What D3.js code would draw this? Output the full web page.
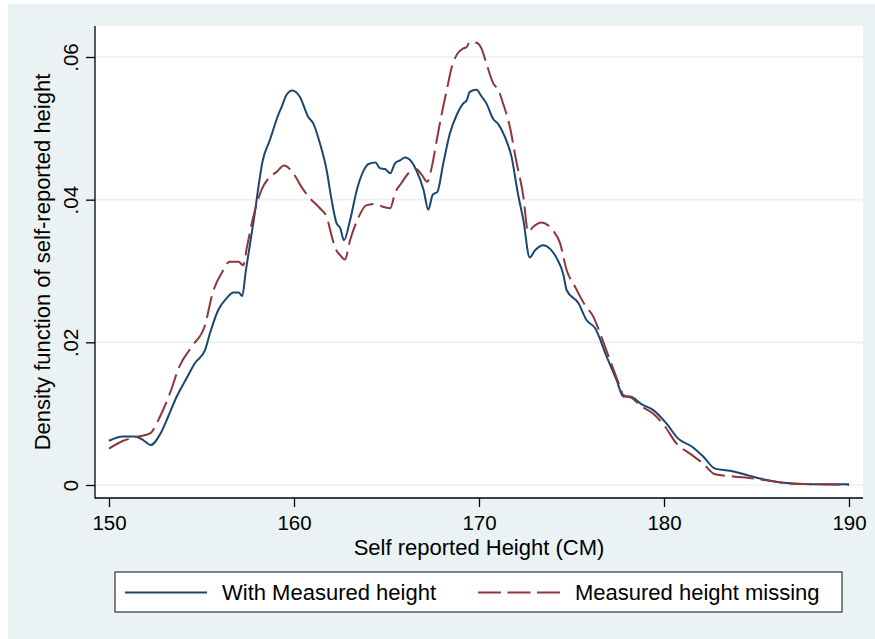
<!DOCTYPE html>
<html>
<head>
<meta charset="utf-8">
<script src="https://cdn.jsdelivr.net/npm/d3@7"></script>
<style>
  html, body { margin: 0; padding: 0; background: #ffffff; }
  svg { display: block; }
  text { font-family: "Liberation Sans", Arial, Helvetica, sans-serif; fill: #000; }
</style>
</head>
<body>
<svg id="chart" width="875" height="639"></svg>
<script>
// ---------- DATA ----------
const xTicks = [150, 160, 170, 180, 190];
const yTicks = [0, 0.02, 0.04, 0.06];
const yTickLabels = ["0", ".02", ".04", ".06"];
const seriesNames = ["With Measured height", "Measured height missing"];
const xTitle = "Self reported Height (CM)";
const yTitle = "Density function of self-reported height";

const measuredX = [150.0,150.77,151.4,151.85,152.25,152.8,153.2,153.66,154.2,154.65,155.19,155.46,155.9,156.36,156.72,157.0,157.2,157.4,157.8,158.32,158.7,159.15,159.3,159.6,159.9,160.32,160.77,161.04,161.4,161.76,162.03,162.3,162.5,162.7,163.03,163.4,163.75,164.03,164.4,164.65,164.92,165.2,165.46,165.73,166.0,166.36,166.6,167.0,167.26,167.5,167.75,168.07,168.43,168.8,169.15,169.33,169.5,169.87,170.13,170.4,170.77,171.04,171.4,171.76,172.1,172.4,172.74,173.03,173.48,173.84,174.2,174.56,174.74,175.37,175.82,176.27,176.9,177.44,177.8,178.16,178.8,179.42,180.14,180.77,181.5,182.12,182.76,183.57,184.47,185.36,186.45,187.9,189.15,190.0];
const measuredY = [.0062,.0068,.0068,.0063,.0056,.0073,.0096,.0124,.0150,.0171,.0189,.0213,.0245,.0262,.0270,.0270,.0265,.0301,.0367,.0456,.0484,.0519,.0528,.0547,.0553,.0544,.0516,.0507,.0479,.0442,.0400,.0367,.0360,.0343,.0371,.0414,.0440,.0450,.0452,.0444,.0443,.0437,.0451,.0455,.0459,.0453,.0442,.0414,.0386,.0407,.0411,.0451,.0493,.0519,.0535,.0539,.0551,.0554,.0545,.0535,.0513,.0506,.0488,.0460,.0409,.0371,.0319,.0329,.0336,.0331,.0318,.0295,.0273,.0255,.0231,.0220,.0180,.0147,.0124,.0124,.0113,.0105,.0086,.0065,.0054,.0040,.0023,.0020,.0014,.0008,.0003,.0001,.0001,.0001];

const missingX = [150.0,150.77,151.58,152.2,152.76,153.3,153.8,154.47,155.19,155.6,156.2,156.5,157.0,157.25,157.46,157.8,158.25,158.7,159.06,159.46,159.96,160.4,160.86,161.4,161.76,162.1,162.29,162.5,162.75,163.03,163.45,163.9,164.46,164.8,165.2,165.46,165.8,166.26,166.6,166.9,167.2,167.45,167.72,167.99,168.26,168.53,168.9,169.15,169.33,169.5,169.87,170.13,170.4,170.77,171.04,171.3,171.67,172.0,172.4,172.65,172.93,173.38,173.74,174.0,174.38,174.74,175.19,175.73,176.18,176.54,177.08,177.62,177.8,178.25,178.8,179.42,180.05,180.68,181.4,182.12,182.76,183.75,184.83,185.73,186.8,188.24,190.0];
const missingY = [.0051,.0062,.0068,.0072,.0096,.0129,.0166,.0194,.0224,.0269,.0302,.0313,.0313,.0308,.0334,.0376,.0414,.0432,.0439,.0448,.0437,.0418,.0402,.0388,.0376,.0343,.0329,.0322,.0316,.0343,.0373,.0392,.0394,.0390,.0388,.0409,.0423,.0439,.0443,.0435,.0425,.0446,.0484,.0521,.0554,.0586,.0607,.0612,.0614,.0621,.0620,.0612,.0591,.0563,.0554,.0535,.0502,.0456,.0404,.0355,.0362,.0368,.0364,.0357,.0339,.0301,.0278,.0252,.0236,.0213,.0175,.0138,.0126,.0122,.0110,.0100,.0082,.0058,.0044,.0030,.0015,.0012,.0009,.0006,.0002,.0001,.0000];

// ---------- LAYOUT ----------
const W = 875, H = 639;
const plot = { left: 95, right: 863, top: 26, bottom: 498 };
const colors = ["#1a476f", "#90353b"];
const bg = "#eaf2f3";

const svg = d3.select("#chart");

svg.append("rect").attr("x", 8).attr("y", 4).attr("width", W - 8).attr("height", H - 4).attr("fill", bg);
svg.append("rect").attr("x", plot.left).attr("y", plot.top)
  .attr("width", plot.right - plot.left).attr("height", plot.bottom - plot.top).attr("fill", "#fff");

const x = d3.scaleLinear().domain([150, 190]).range([109, 849]);
const y = d3.scaleLinear().domain([0, 0.06]).range([485, 57]);

// gridlines
svg.append("g").selectAll("line").data(yTicks).join("line")
  .attr("x1", plot.left).attr("x2", plot.right)
  .attr("y1", d => y(d)).attr("y2", d => y(d))
  .attr("stroke", bg).attr("stroke-width", 1.6);

// series
const seriesData = [
  measuredX.map((v, i) => [v, measuredY[i]]),
  missingX.map((v, i) => [v, missingY[i]])
];
const line = d3.line().x(d => x(d[0])).y(d => y(d[1])).curve(d3.curveMonotoneX);
svg.append("path").datum(seriesData[0]).attr("d", line)
  .attr("fill", "none").attr("stroke", colors[0]).attr("stroke-width", 2).attr("stroke-linejoin", "round");
svg.append("path").datum(seriesData[1]).attr("d", line)
  .attr("fill", "none").attr("stroke", colors[1]).attr("stroke-width", 2)
  .attr("stroke-dasharray", "22,7");

// axes
const xAxis = d3.axisBottom(x).tickValues(xTicks).tickSize(9).tickSizeOuter(0).tickPadding(4).tickFormat(d3.format("d"));
const gx = svg.append("g").attr("transform", `translate(0,${plot.bottom})`).call(xAxis);
gx.select(".domain").remove();
gx.selectAll("line").attr("stroke", "#000").attr("stroke-width", 1.3);
gx.selectAll("text").attr("font-size", "20.5px").attr("fill", "#000")
  .attr("font-family", "Liberation Sans, Arial, sans-serif").attr("dy", null).attr("y", 32);

const yAxis = d3.axisLeft(y).tickValues(yTicks).tickSize(9).tickSizeOuter(0).tickFormat((d, i) => yTickLabels[i]);
const gy = svg.append("g").attr("transform", `translate(${plot.left},0)`).call(yAxis);
gy.select(".domain").remove();
gy.selectAll("line").attr("stroke", "#000").attr("stroke-width", 1.3);
gy.selectAll("text")
  .attr("font-size", "20.5px").attr("fill", "#000")
  .attr("font-family", "Liberation Sans, Arial, sans-serif")
  .attr("x", null).attr("dy", null)
  .attr("text-anchor", "middle")
  .attr("transform", "translate(-17,0) rotate(-90)");

// axis lines
svg.append("line").attr("x1", plot.left).attr("x2", plot.left).attr("y1", plot.top).attr("y2", plot.bottom + 0.5)
  .attr("stroke", "#000").attr("stroke-width", 1.3);
svg.append("line").attr("x1", plot.left).attr("x2", plot.right).attr("y1", plot.bottom).attr("y2", plot.bottom)
  .attr("stroke", "#000").attr("stroke-width", 1.3);

// titles
svg.append("text").attr("x", (plot.left + plot.right) / 2).attr("y", 555)
  .attr("text-anchor", "middle").attr("font-size", "22px").text(xTitle);
svg.append("text").attr("transform", `translate(50,${(plot.top + plot.bottom) / 2}) rotate(-90)`)
  .attr("text-anchor", "middle").attr("font-size", "22px").text(yTitle);

// legend
const lg = svg.append("g");
lg.append("rect").attr("x", 115).attr("y", 572).attr("width", 727).attr("height", 40)
  .attr("fill", "#fff").attr("stroke", "#333").attr("stroke-width", 1.2);
const legendItems = [
  { x0: 125, x1: 207, tx: 222 },
  { x0: 478, x1: 561, tx: 575 }
];
legendItems.forEach((it, i) => {
  const l = lg.append("line").attr("x1", it.x0).attr("x2", it.x1).attr("y1", 592.5).attr("y2", 592.5)
    .attr("stroke", colors[i]).attr("stroke-width", 2);
  if (i === 1) l.attr("stroke-dasharray", "23,6.5");
  lg.append("text").attr("x", it.tx).attr("y", 600).attr("font-size", "22px").text(seriesNames[i]);
});
</script>
</body>
</html>
